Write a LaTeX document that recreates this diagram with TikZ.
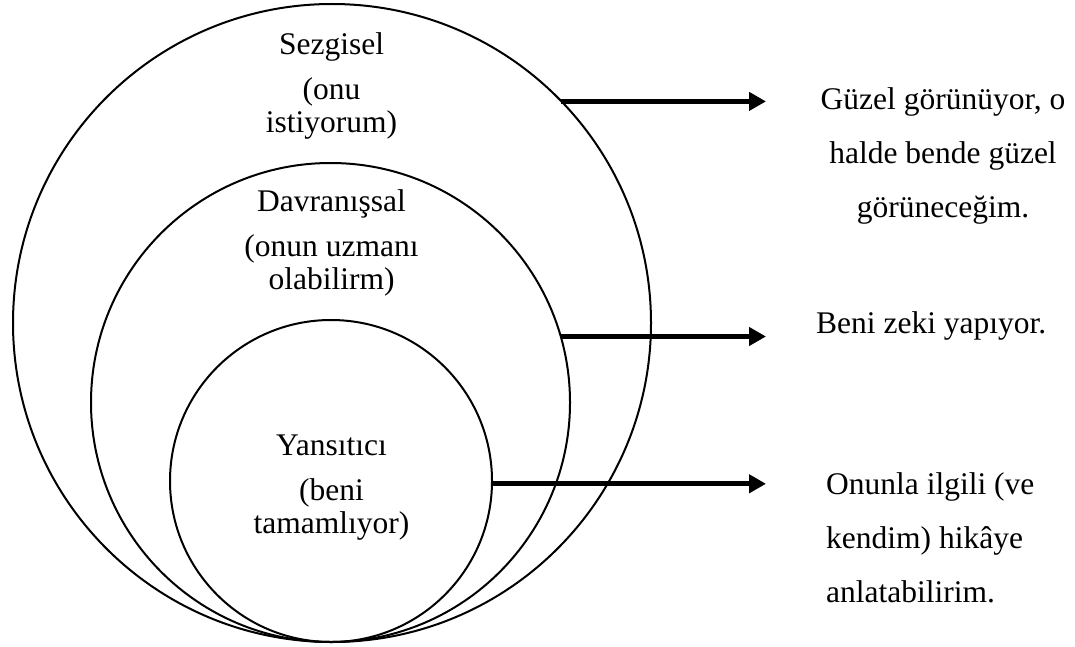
\documentclass[tikz,border=0pt]{standalone}
\usepackage{fontspec}
\setmainfont{Liberation Serif}
\usetikzlibrary{shapes.geometric,arrows.meta}
\begin{document}
\begin{tikzpicture}[x=1pt,y=-1pt,
  ring/.style={draw, circle, line width=2pt, inner sep=0pt, outer sep=0pt},
  lbl/.style={font=\fontsize{31.5}{33}\selectfont, align=center, inner sep=0pt, anchor=base},
  note/.style={font=\fontsize{31.5}{54}\selectfont, inner sep=0pt},
  link/.style={line width=5pt, -{Triangle[length=17pt,width=18pt]}}]
\useasboundingbox (0,0) rectangle (1075,647);

% three nested rings touching at the bottom
\node[ring, minimum size=638pt] (outer) at (332,323) {};
\node[ring, minimum size=479pt] (middle) at (330.5,402.5) {};
\node[ring, minimum size=322pt] (inner) at (331,481) {};

% ring labels (anchored at the baseline of the last line)
\node[lbl] (sez) at (331.5,133) {Sezgisel\\[12pt](onu\\istiyorum)};
\node[lbl] (dav) at (331.5,289) {Davranışsal\\[12pt](onun uzmanı\\olabilirm)};
\node[lbl] (yan) at (331.5,533) {Yansıtıcı\\[12pt](beni\\tamamlıyor)};

% descriptions on the right
\node[note, align=center, anchor=base] (r1) at (943,217.5) {Güzel görünüyor, o\\halde bende güzel\\görüneceğim.};
\node[note, anchor=base west] (r2) at (816,333) {Beni zeki yapıyor.};
\node[note, align=left, anchor=base west] (r3) at (826,602) {Onunla ilgili (ve\\kendim) hikâye\\anlatabilirim.};

% arrows from each ring to its description
\coordinate (tip) at (766,0);
\draw[link] (outer.44.3) -- (outer.44.3 -| tip);
\draw[link] (middle.16.7) -- (middle.16.7 -| tip);
\draw[link] (inner.-1.1) -- (inner.-1.1 -| tip);
\end{tikzpicture}
\end{document}
